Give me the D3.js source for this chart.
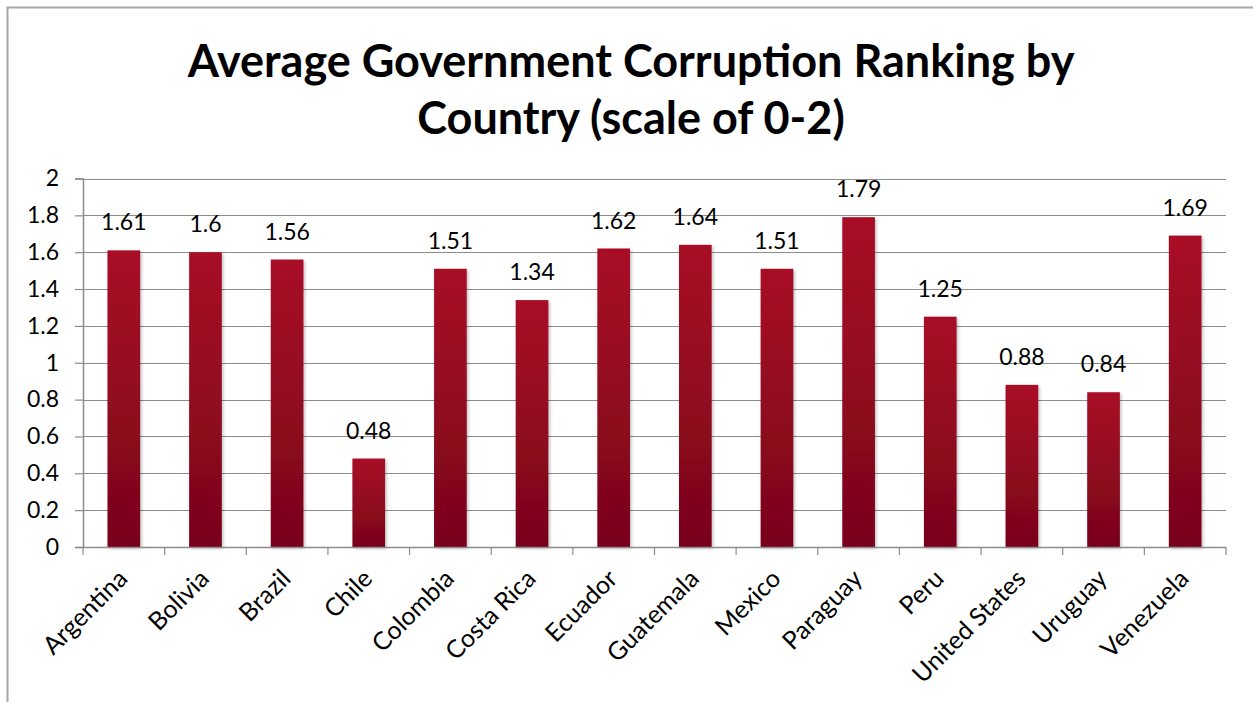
<!DOCTYPE html>
<html>
<head>
<meta charset="utf-8">
<script src="https://cdn.jsdelivr.net/npm/d3@7"></script>
<style>
  html, body { margin: 0; padding: 0; background: #fff; }
  svg { display: block; }
  text { font-family: Lato, "Open Sans", "Liberation Sans", sans-serif; fill: #000; }
</style>
</head>
<body>
<svg id="chart" width="1253" height="702"></svg>
<script>
// Chart data
const countries = ["Argentina", "Bolivia", "Brazil", "Chile", "Colombia", "Costa Rica", "Ecuador",
  "Guatemala", "Mexico", "Paraguay", "Peru", "United States", "Uruguay", "Venezuela"];
const rankings = [1.61, 1.6, 1.56, 0.48, 1.51, 1.34, 1.62, 1.64, 1.51, 1.79, 1.25, 0.88, 0.84, 1.69];
const yTicks = [0, 0.2, 0.4, 0.6, 0.8, 1, 1.2, 1.4, 1.6, 1.8, 2];
const titleLines = ["Average Government Corruption Ranking by", "Country (scale of 0-2)"];

const svg = d3.select("#chart");
const W = 1253, H = 702;
const plot = { left: 83, right: 1226, top: 178.5, bottom: 547 };

// Outer chart frame (left and top edges visible)
svg.append("path")
  .attr("d", `M7.5,${H} V7.5 H${W}`)
  .attr("fill", "none").attr("stroke", "#a6a6a6").attr("stroke-width", 2);

const defs = svg.append("defs");
const grad = defs.append("linearGradient").attr("id", "barGrad")
  .attr("x1", 0).attr("y1", 0).attr("x2", 0).attr("y2", 1);
grad.append("stop").attr("offset", "0%").attr("stop-color", "#a90b26");
grad.append("stop").attr("offset", "100%").attr("stop-color", "#78051a");

const shadow = defs.append("filter").attr("id", "barShadow")
  .attr("x", "-20%").attr("y", "-5%").attr("width", "150%").attr("height", "115%");
shadow.append("feDropShadow").attr("dx", 1.5).attr("dy", 1.5).attr("stdDeviation", 1.5)
  .attr("flood-color", "#000").attr("flood-opacity", 0.25);

const x = d3.scaleBand().domain(countries).range([plot.left, plot.right]).paddingInner(0.6).paddingOuter(0.3);
const xEdges = d3.scaleBand().domain(countries).range([plot.left, plot.right]).padding(0);
const y = d3.scaleLinear().domain([0, 2]).range([plot.bottom, plot.top]);

// Title
svg.append("g").selectAll("text").data(titleLines).join("text")
  .attr("x", 631).attr("y", (d, i) => 77 + i * 57)
  .attr("text-anchor", "middle")
  .attr("font-size", 45).attr("font-weight", "bold")
  .text(d => d);

// Horizontal gridlines
svg.append("g").selectAll("line").data(yTicks.filter(t => t > 0)).join("line")
  .attr("x1", plot.left).attr("x2", plot.right)
  .attr("y1", d => Math.round(y(d)) + 0.5).attr("y2", d => Math.round(y(d)) + 0.5)
  .attr("stroke", "#8c8c8c").attr("stroke-width", 1.2);

// Y axis
const yAxis = svg.append("g").attr("transform", `translate(${plot.left},0)`)
  .call(d3.axisLeft(y).tickValues(yTicks).tickSize(8).tickPadding(16).tickFormat(d3.format("~g")));
yAxis.select(".domain").attr("stroke", "#8c8c8c").attr("stroke-width", 1.5);
yAxis.selectAll(".tick line").attr("stroke", "#8c8c8c").attr("stroke-width", 1.2);
yAxis.selectAll(".tick text").attr("font-size", 23).attr("font-family", "Lato, 'Open Sans', sans-serif").attr("fill", "#000");

// Bars
svg.append("g").selectAll("rect").data(countries).join("rect")
  .attr("x", d => x(d))
  .attr("y", (d, i) => y(rankings[i]))
  .attr("width", x.bandwidth())
  .attr("height", (d, i) => y(0) - y(rankings[i]))
  .attr("fill", "url(#barGrad)")
  .attr("filter", "url(#barShadow)");

// Value labels
svg.append("g").selectAll("text").data(countries).join("text")
  .attr("x", d => x(d) + x.bandwidth() / 2)
  .attr("y", (d, i) => y(rankings[i]) - 20)
  .attr("text-anchor", "middle")
  .attr("font-size", 23)
  .text((d, i) => rankings[i]);

// X axis with ticks at category boundaries
const xAxisG = svg.append("g").attr("transform", `translate(0,${plot.bottom})`);
xAxisG.append("line").attr("x1", plot.left).attr("x2", plot.right).attr("y1", 0.5).attr("y2", 0.5)
  .attr("stroke", "#8c8c8c").attr("stroke-width", 1.5);
const boundaries = countries.map(c => xEdges(c)).concat([plot.right]);
xAxisG.selectAll("line.tk").data(boundaries).join("line").attr("class", "tk")
  .attr("x1", d => d).attr("x2", d => d).attr("y1", 0).attr("y2", 8)
  .attr("stroke", "#8c8c8c").attr("stroke-width", 1.2);

// Rotated category labels
xAxisG.selectAll("text").data(countries).join("text")
  .attr("transform", d => `translate(${xEdges(d) + xEdges.bandwidth() / 2 - 1},${27}) rotate(-45)`)
  .attr("text-anchor", "end")
  .attr("dy", "0.35em")
  .attr("font-size", 25)
  .text(d => d);
</script>
</body>
</html>
